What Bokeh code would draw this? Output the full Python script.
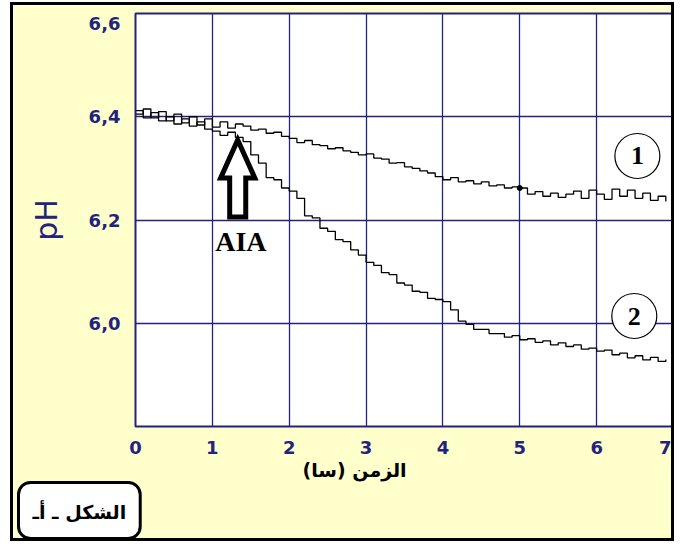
from bokeh.plotting import figure
from bokeh.models import Range1d, FixedTicker, Title
from bokeh.core.properties import value
from bokeh.embed import file_html
from bokeh.resources import INLINE

# ---- data ----
time_h = [0.0, 0.1, 0.2, 0.3, 0.4, 0.5, 0.6, 0.7, 0.8, 0.9,
          1.0, 1.1, 1.2, 1.3, 1.4, 1.5, 1.6, 1.7, 1.8, 1.9,
          2.0, 2.1, 2.2, 2.3, 2.4, 2.5, 2.6, 2.7, 2.8, 2.9,
          3.0, 3.1, 3.2, 3.3, 3.4, 3.5, 3.6, 3.7, 3.8, 3.9,
          4.0, 4.1, 4.2, 4.3, 4.4, 4.5, 4.6, 4.7, 4.8, 4.9,
          5.0, 5.1, 5.2, 5.3, 5.4, 5.5, 5.6, 5.7, 5.8, 5.9,
          6.0, 6.1, 6.2, 6.3, 6.4, 6.5, 6.6, 6.7, 6.8, 6.9]

ph_curve1 = [6.405, 6.415, 6.398, 6.410, 6.392, 6.405, 6.388, 6.400, 6.384, 6.396,
             6.380, 6.390, 6.378, 6.386, 6.382, 6.374, 6.376, 6.368, 6.370, 6.362,
             6.358, 6.350, 6.354, 6.346, 6.344, 6.338, 6.340, 6.334, 6.331, 6.326,
             6.328, 6.320, 6.318, 6.310, 6.311, 6.303, 6.300, 6.295, 6.291, 6.284,
             6.278, 6.282, 6.274, 6.276, 6.270, 6.274, 6.266, 6.268, 6.262, 6.264,
             6.262, 6.250, 6.255, 6.246, 6.252, 6.244, 6.250, 6.256, 6.242, 6.258,
             6.250, 6.240, 6.260, 6.246, 6.258, 6.242, 6.252, 6.238, 6.246, 6.236]

ph_curve2 = [6.412, 6.398, 6.408, 6.392, 6.400, 6.386, 6.396, 6.382, 6.390, 6.376,
             6.372, 6.364, 6.370, 6.360, 6.352, 6.326, 6.310, 6.282, 6.278, 6.262,
             6.256, 6.242, 6.208, 6.204, 6.184, 6.178, 6.162, 6.158, 6.142, 6.132,
             6.118, 6.112, 6.098, 6.094, 6.078, 6.074, 6.062, 6.060, 6.048, 6.046,
             6.042, 6.026, 6.004, 5.998, 5.988, 5.988, 5.980, 5.980, 5.973, 5.976,
             5.968, 5.970, 5.963, 5.966, 5.958, 5.962, 5.955, 5.958, 5.950, 5.952,
             5.946, 5.948, 5.939, 5.942, 5.933, 5.937, 5.929, 5.934, 5.926, 5.930]

x_ticks = [0, 1, 2, 3, 4, 5, 6, 7]
y_grid_ticks = [5.8, 6.0, 6.2, 6.4, 6.6]
# the top label sits a little below its grid line in the original
y_label_ticks = [6.0, 6.2, 6.4, 6.581]
y_tick_labels = {6.0: "6,0", 6.2: "6,2", 6.4: "6,4", 6.581: "6,6"}

curve_names = ["1", "2"]
curve_label_pos = [(6.53, 6.324), (6.49, 6.014)]
aia_time = 1.33
aia_ph = 6.359
marker_time = 5.0
marker_ph = 6.262

x_title = "الزمن (سا)"
y_title = "pH"
fig_caption = "الشكل ـ أـ"

NAVY = "#23237F"
BG = "#FFFFCC"

p = figure(width=664, height=539, output_backend="svg", toolbar_location=None,
           x_range=Range1d(0, 7), y_range=Range1d(5.8, 6.6),
           min_border_left=122, min_border_right=4, min_border_top=8, min_border_bottom=118)
p.styles = {"border": "3px solid black", "margin-left": "10px", "margin-top": "2px"}
p.background_fill_color = "white"
p.border_fill_color = BG
p.outline_line_color = NAVY
p.outline_line_width = 2

p.xaxis.ticker = FixedTicker(ticks=x_ticks)
p.yaxis.ticker = FixedTicker(ticks=y_label_ticks)
p.yaxis.major_label_overrides = y_tick_labels
for ax in (p.xaxis, p.yaxis):
    ax.axis_line_color = None
    ax.major_tick_line_color = None
    ax.major_tick_out = 0
    ax.major_tick_in = 0
    ax.minor_tick_line_color = None
    ax.minor_tick_out = 0
    ax.major_label_text_font = "DejaVu Sans"
    ax.major_label_text_font_style = "bold"
    ax.major_label_text_font_size = "18px"
    ax.major_label_text_color = NAVY
p.yaxis.major_label_standoff = 15
p.xaxis.major_label_standoff = 14

p.yaxis.axis_label = y_title
p.yaxis.axis_label_text_font = "DejaVu Sans"
p.yaxis.axis_label_text_font_style = "normal"
p.yaxis.axis_label_text_font_size = "30px"
p.yaxis.axis_label_text_color = NAVY
p.yaxis.axis_label_standoff = 22

p.xgrid.ticker = FixedTicker(ticks=x_ticks)
p.ygrid.ticker = FixedTicker(ticks=y_grid_ticks)
for g in (p.xgrid, p.ygrid):
    g.grid_line_color = NAVY
    g.grid_line_width = 1.3
    g.grid_line_alpha = 1.0

p.step(time_h, ph_curve1, mode="after", line_color="black", line_width=1.3)
p.step(time_h, ph_curve2, mode="after", line_color="black", line_width=1.3)
p.scatter([marker_time], [marker_ph], size=5, color="black")

# circled curve numbers
p.scatter([c[0] for c in curve_label_pos], [c[1] for c in curve_label_pos],
          marker="circle", size=45, fill_color="white", line_color="black", line_width=1.2)
p.text([c[0] for c in curve_label_pos], [c[1] for c in curve_label_pos], text=curve_names,
       text_font=value("Liberation Serif"), text_font_style="bold", text_font_size="26px",
       text_align="center", text_baseline="middle", text_color="black")

# hollow block arrow (offsets in pixels converted through scale)
px_t = 7 / 536.0
px_ph = 0.8 / 413.0
shape = [(0, 2), (17, 40), (8, 40), (8, 79), (-8, 79), (-8, 40), (-17, 40)]
p.patch([aia_time + dx * px_t for dx, dy in shape],
        [aia_ph - dy * px_ph for dx, dy in shape],
        fill_color="white", line_color="black", line_width=5, line_join="miter")
p.text([1.371], [6.159], text=["AIA"], text_font=value("Liberation Serif"),
       text_font_style="bold", text_font_size="28px",
       text_align="center", text_baseline="middle", text_color="black")

# x axis title and caption box as titles below the plot
p.add_layout(Title(text=x_title, align="left", offset=167, standoff=0,
                   text_font="DejaVu Sans", text_font_style="bold",
                   text_font_size="19px", text_color="black"), "below")
p.add_layout(Title(text=fig_caption, align="left", offset=-117, standoff=0,
                   text_font="DejaVu Sans", text_font_style="bold",
                   text_font_size="19px", text_color="black",
                   background_fill_color="white", border_line_color="black",
                   border_line_width=3, border_radius=12, padding=(14, 14, 18, 16)), "below")

open("out.html", "w").write(file_html(p, INLINE))
